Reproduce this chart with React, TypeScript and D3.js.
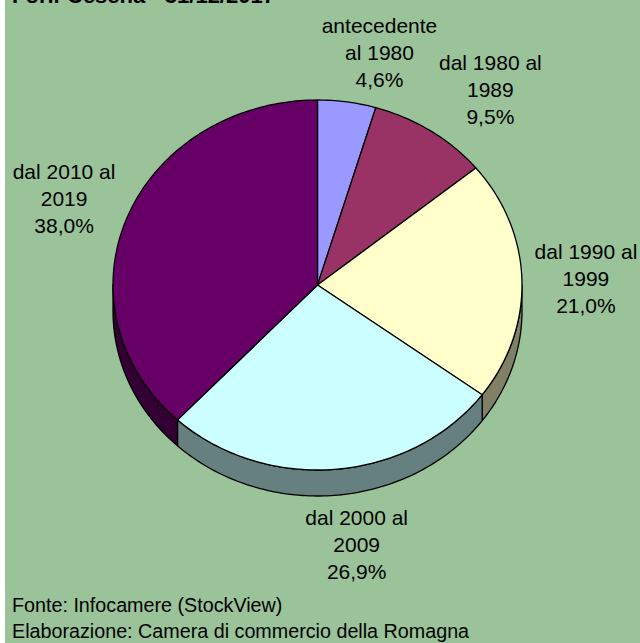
import React from 'react';
import * as d3 from 'd3';

const labelLines: string[][] = [
  ['antecedente', 'al 1980'],
  ['dal 1980 al', '1989'],
  ['dal 1990 al', '1999'],
  ['dal 2000 al', '2009'],
  ['dal 2010 al', '2019'],
];
const values: number[] = [4.6, 9.5, 21.0, 26.9, 38.0];
const percentLabels: string[] = ['4,6%', '9,5%', '21,0%', '26,9%', '38,0%'];
const topColors: string[] = ['#9999FF', '#993366', '#FFFFCC', '#CCFFFF', '#660066'];
const title = 'Forlì-Cesena - 31/12/2017';
const footer: string[] = ['Fonte: Infocamere (StockView)', 'Elaborazione: Camera di commercio della Romagna'];

const W = 640;
const H = 643;
const BG = '#9AC39A';
const cx = 317.5;
const cy = 285;
const rx = 204.5;
const ry = 185;
const depth = 26;
const FONT = '"Liberation Sans", Arial, sans-serif';
const labelSize = 21;
const lineH = 27;

function pt(t: number, dz = 0): [number, number] {
  return [cx + rx * Math.sin(t), cy - ry * Math.cos(t) + dz];
}

function arcPoints(a: number, b: number, dz = 0): [number, number][] {
  const n = Math.max(2, Math.ceil(((b - a) / (Math.PI * 2)) * 360));
  return d3.range(n + 1).map((i) => pt(a + ((b - a) * i) / n, dz));
}

const line = d3.line<[number, number]>();

export default function App() {
  const arcs = d3.pie<number>().sort(null).value((d) => d)(values);

  const sides = arcs
    .map((a, i) => {
      const s = Math.max(a.startAngle, Math.PI / 2);
      const e = Math.min(a.endAngle, (Math.PI * 3) / 2);
      if (s >= e) return null;
      const top = arcPoints(s, e, 0);
      const bottom = arcPoints(s, e, depth).reverse();
      const c = d3.rgb(topColors[i]);
      const dark = d3.rgb(Math.round(c.r / 2), Math.round(c.g / 2), Math.round(c.b / 2));
      return (
        <path
          key={'s' + i}
          d={(line([...top, ...bottom]) || '') + 'Z'}
          fill={dark.formatHex()}
          stroke="#000"
          strokeWidth={1.3}
          strokeLinejoin="round"
        />
      );
    })
    .filter(Boolean);

  const tops = arcs.map((a, i) => {
    const pts: [number, number][] = [[cx, cy], ...arcPoints(a.startAngle, a.endAngle, 0)];
    return (
      <path
        key={'t' + i}
        d={(line(pts) || '') + 'Z'}
        fill={topColors[i]}
        stroke="#000"
        strokeWidth={1.3}
        strokeLinejoin="round"
      />
    );
  });

  const hw = 54;
  const hh = 40;
  const gap = 10;
  const labels = arcs.map((a, i) => {
    const mid = (a.startAngle + a.endAngle) / 2;
    const ux = Math.sin(mid);
    const uy = -Math.cos(mid);
    const front = Math.cos(mid) < 0 ? depth : 0;
    const [px, py] = pt(mid, front);
    const lx = px + Math.sign(ux) * Math.min(1, Math.abs(ux) * 4) * hw + ux * gap;
    const ly = py + uy * (hh + gap);
    const lines = [...labelLines[i], percentLabels[i]];
    return (
      <text
        key={'l' + i}
        x={lx}
        y={ly - lineH}
        textAnchor="middle"
        fontFamily={FONT}
        fontSize={labelSize}
        fill="#000"
      >
        {lines.map((l, j) => (
          <tspan key={j} x={lx} dy={j === 0 ? '0.35em' : lineH}>
            {l}
          </tspan>
        ))}
      </text>
    );
  });

  return (
    <div style={{ position: 'absolute', left: 0, top: 0, width: W, height: H, background: '#fff' }}>
      <svg width={W} height={H} style={{ display: 'block' }}>
        <rect x={5} y={0} width={W - 5} height={H} fill={BG} />
        <text x={12} y={3} fontFamily={FONT} fontWeight="bold" fontSize={22} fill="#000">
          {title}
        </text>
        {sides}
        {tops}
        {labels}
        {footer.map((f, i) => (
          <text
            key={'f' + i}
            transform={`translate(12, ${612 + i * 26}) scale(0.94, 1)`}
            fontFamily={FONT}
            fontSize={21}
            fill="#000"
          >
            {f}
          </text>
        ))}
      </svg>
    </div>
  );
}
